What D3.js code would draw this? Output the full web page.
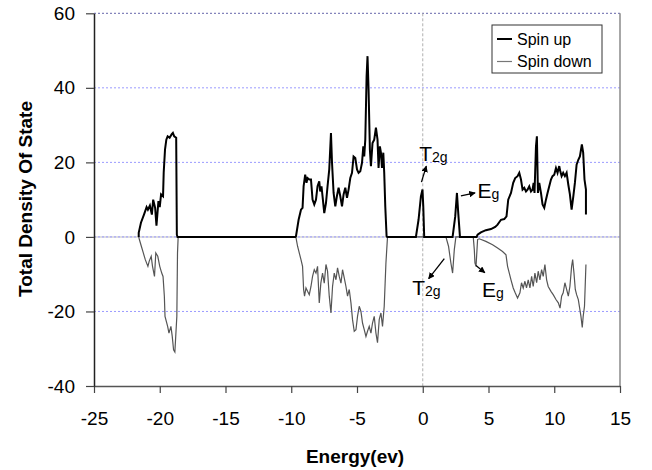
<!DOCTYPE html>
<html>
<head>
<meta charset="utf-8">
<script src="https://cdn.jsdelivr.net/npm/d3@7"></script>
<style>
  body { margin: 0; background: #fff; }
  svg text { font-family: "Liberation Sans", Arial, sans-serif; }
</style>
</head>
<body>
<div id="chart"></div>
<script>
// ---- data: [energy (eV), total DOS] ----
const spinUp = [
  [-21.6, 0], [-21.6, 1.1], [-21.43, 3.8], [-21.2, 6.0], [-21.0, 8.0], [-20.9, 7.3], [-20.75, 8.4],
  [-20.6, 6.0], [-20.5, 10.0], [-20.35, 7.8], [-20.25, 3.0], [-20.1, 9.6], [-20.0, 8.0],
  [-19.9, 11.4], [-19.75, 10.9], [-19.7, 17.2], [-19.6, 23.4], [-19.5, 26.1], [-19.4, 27.0],
  [-19.25, 26.6], [-19.1, 27.5], [-19.0, 27.9], [-18.9, 27.0], [-18.75, 26.6], [-18.7, 0.6],
  [-18.65, 0], [-9.7, 0],
  [-9.64, 0.2], [-9.44, 4.6], [-9.26, 7.3], [-9.14, 7.8], [-9.06, 13.6], [-8.94, 16.7],
  [-8.84, 14.5], [-8.76, 15.8], [-8.63, 15.4], [-8.5, 15.4], [-8.38, 10.0], [-8.25, 8.7],
  [-8.12, 10.0], [-8.0, 13.6], [-7.87, 14.9], [-7.8, 12.2], [-7.7, 13.6], [-7.62, 10.9],
  [-7.49, 6.4], [-7.36, 9.1], [-7.24, 13.6], [-7.11, 18.1], [-6.98, 27.9], [-6.9, 19.9],
  [-6.78, 11.8], [-6.65, 8.2], [-6.53, 10.9], [-6.4, 13.2], [-6.27, 10.9], [-6.14, 8.2],
  [-6.02, 11.4], [-5.89, 13.2], [-5.76, 10.5], [-5.64, 12.7], [-5.51, 15.8], [-5.38, 17.2],
  [-5.26, 21.6], [-5.13, 21.2], [-5.0, 18.1], [-4.88, 17.2], [-4.75, 17.6], [-4.62, 19.9],
  [-4.52, 24.3], [-4.45, 21.6], [-4.37, 26.1], [-4.27, 43.1], [-4.2, 48.5], [-4.12, 39.5],
  [-4.02, 23.4], [-3.94, 19.0], [-3.82, 25.2], [-3.69, 26.1], [-3.56, 29.3], [-3.44, 26.1],
  [-3.36, 18.5], [-3.26, 24.3], [-3.18, 22.6], [-3.1, 18.5], [-3.0, 22.6], [-2.93, 17.2],
  [-2.85, 8.2], [-2.75, 0.2], [-2.7, 0],
  [-0.52, 0], [-0.32, 4.6], [-0.14, 10.9], [-0.02, 12.7], [0.04, 8.2], [0.11, 0],
  [2.27, 0], [2.47, 5.5], [2.6, 11.8], [2.7, 6.4], [2.83, 0],
  [4.1, 0], [4.17, 0.6], [4.42, 1.2], [4.8, 1.8], [5.19, 2.1], [5.51, 2.7], [5.69, 3.3],
  [5.95, 4.6], [6.2, 4.8], [6.37, 5.5], [6.5, 10.0], [6.71, 11.8], [6.88, 14.5], [7.03, 15.8],
  [7.21, 16.3], [7.34, 17.2], [7.47, 15.4], [7.59, 12.7], [7.72, 13.2], [7.85, 12.2],
  [7.97, 12.7], [8.1, 13.6], [8.23, 12.2], [8.35, 12.7], [8.43, 14.5], [8.5, 11.8],
  [8.61, 24.3], [8.68, 27.0], [8.76, 11.8], [8.86, 14.5], [8.99, 11.8], [9.11, 8.7],
  [9.24, 7.8], [9.37, 10.0], [9.49, 11.8], [9.62, 13.6], [9.75, 15.4], [9.87, 16.3],
  [10.0, 16.7], [10.13, 18.5], [10.25, 17.2], [10.38, 19.0], [10.46, 17.6], [10.56, 16.3],
  [10.68, 17.2], [10.81, 16.3], [10.94, 17.2], [11.07, 14.0], [11.19, 11.4], [11.32, 7.3],
  [11.45, 10.9], [11.57, 14.5], [11.7, 19.4], [11.83, 20.7], [11.95, 21.6], [12.1, 24.8],
  [12.2, 22.6], [12.3, 15.4], [12.41, 12.7], [12.41, 6.0]
];

const spinDown = [
  [-21.6, 0], [-21.55, -0.7], [-21.4, -2.5], [-21.25, -4.3], [-21.1, -6.1], [-20.9, -7.9],
  [-20.8, -6.5], [-20.65, -5.2], [-20.55, -7.9], [-20.4, -10.6], [-20.3, -4.3], [-20.15, -5.2],
  [-20.0, -7.9], [-19.85, -9.7], [-19.75, -10.6], [-19.65, -15.9], [-19.6, -21.3], [-19.4, -24.0],
  [-19.3, -25.8], [-19.15, -24.0], [-19.05, -26.7], [-18.95, -30.3], [-18.85, -30.9],
  [-18.7, -21.3], [-18.65, -4.3], [-18.6, 0], [-9.7, 0],
  [-9.64, -0.2], [-9.52, -2.5], [-9.26, -6.1], [-9.14, -7.9], [-9.06, -14.1], [-8.99, -15.9],
  [-8.88, -13.7], [-8.76, -14.6], [-8.63, -15.5], [-8.5, -13.3], [-8.38, -10.6], [-8.25, -8.8],
  [-8.12, -9.7], [-8.0, -7.9], [-7.87, -17.7], [-7.75, -12.4], [-7.62, -9.7], [-7.49, -12.4],
  [-7.36, -7.4], [-7.24, -9.2], [-7.11, -15.9], [-6.98, -20.4], [-6.86, -13.3], [-6.73, -9.7],
  [-6.6, -11.5], [-6.48, -8.3], [-6.35, -10.6], [-6.22, -12.4], [-6.1, -8.8], [-5.97, -11.0],
  [-5.84, -13.3], [-5.72, -15.9], [-5.59, -14.1], [-5.46, -17.7], [-5.34, -22.2], [-5.21, -25.3],
  [-5.08, -24.9], [-4.96, -21.3], [-4.83, -18.6], [-4.7, -20.0], [-4.58, -23.1], [-4.45, -24.9],
  [-4.32, -26.7], [-4.2, -25.3], [-4.07, -24.0], [-3.94, -25.8], [-3.82, -23.1], [-3.69, -21.3],
  [-3.56, -25.8], [-3.44, -28.4], [-3.31, -22.2], [-3.18, -20.4], [-3.06, -24.0], [-2.93, -18.6],
  [-2.8, -7.0], [-2.68, 0],
  [1.76, 0], [1.96, -2.5], [2.14, -7.0], [2.27, -9.7], [2.4, -3.4], [2.52, 0],
  [3.84, 0], [3.92, -3.4], [3.97, -7.0], [4.05, -7.9], [4.17, -0.7], [4.3, -0.5],
  [4.8, -1.2], [5.31, -2.1], [5.69, -3.0], [6.07, -3.9], [6.33, -4.8], [6.45, -7.9],
  [6.58, -9.7], [6.71, -11.5], [6.88, -13.7], [7.03, -15.0], [7.21, -16.4], [7.39, -15.0],
  [7.51, -12.3], [7.64, -13.7], [7.77, -11.9], [7.89, -13.7], [8.02, -11.5], [8.15, -13.7],
  [8.28, -10.6], [8.4, -13.3], [8.53, -9.7], [8.66, -12.3], [8.78, -9.2], [8.91, -11.5],
  [9.04, -8.8], [9.16, -10.6], [9.29, -7.4], [9.42, -11.5], [9.54, -13.3], [9.75, -14.6],
  [9.92, -15.5], [10.13, -16.8], [10.31, -17.7], [10.44, -19.1], [10.56, -15.9], [10.68, -15.0],
  [10.81, -12.3], [10.94, -14.1], [11.07, -15.9], [11.19, -13.3], [11.32, -7.9], [11.4, -6.1],
  [11.5, -9.7], [11.6, -14.1], [11.7, -15.5], [11.83, -16.8], [11.95, -19.5], [12.03, -21.3],
  [12.13, -24.3], [12.2, -21.3], [12.3, -18.6], [12.41, -7.4]
];

const xTicks = [-25, -20, -15, -10, -5, 0, 5, 10, 15];
const yTicks = [-40, -20, 0, 20, 40, 60];
const gridValues = [-20, 20, 40, 60];
const seriesNames = ['Spin up', 'Spin down'];

// annotation labels: [energy, dos] of label, arrow tail, arrow head
const labels = [
  { main: 'T', sub: '2g', at: [-0.27, 20.3], tail: [-0.1, 14.7], head: [0.27, 19.0] },
  { main: 'E', sub: 'g', at: [4.17, 10.5], tail: [2.9, 11.0], head: [3.98, 11.8] },
  { main: 'T', sub: '2g', at: [-0.8, -15.5], tail: [1.64, -5.8], head: [0.45, -11.2] },
  { main: 'E', sub: 'g', at: [4.5, -16.0], tail: [4.05, -7.7], head: [4.72, -9.6] }
];

const outerW = 652, outerH = 470;
const margin = { left: 94, right: 32, top: 13.3, bottom: 84 };
const w = outerW - margin.left - margin.right;
const h = outerH - margin.top - margin.bottom;

const x = d3.scaleLinear().domain([-25, 15]).range([0, w]);
const y = d3.scaleLinear().domain([-40, 60]).range([h, 0]);

const svg = d3.select('#chart').append('svg')
  .attr('width', outerW)
  .attr('height', outerH);

svg.append('defs').append('marker')
  .attr('id', 'arrow')
  .attr('viewBox', '0 0 10 10')
  .attr('refX', 9).attr('refY', 5)
  .attr('markerWidth', 5).attr('markerHeight', 5)
  .attr('orient', 'auto')
  .append('path').attr('d', 'M0,0L10,5L0,10Z').attr('fill', '#000');

const g = svg.append('g')
  .attr('transform', 'translate(' + margin.left + ',' + margin.top + ')');

// grid lines
g.append('line')
  .attr('x1', 0).attr('x2', w).attr('y1', y(0)).attr('y2', y(0))
  .attr('stroke', '#d4d4d4').attr('stroke-width', 1.5);
g.selectAll('.grid')
  .data(gridValues.concat([0]))
  .enter().append('line')
  .attr('class', 'grid')
  .attr('x1', 0).attr('x2', w)
  .attr('y1', d => y(d)).attr('y2', d => y(d))
  .attr('stroke', d => d === 60 ? '#6666aa' : '#9a9aff')
  .attr('stroke-width', 1)
  .attr('stroke-dasharray', '2,2');
g.append('line')
  .attr('x1', x(0)).attr('x2', x(0)).attr('y1', 0).attr('y2', h)
  .attr('stroke', '#b0b0b0').attr('stroke-width', 1)
  .attr('stroke-dasharray', '3,2');

// right border
g.append('line')
  .attr('x1', w).attr('x2', w).attr('y1', 0).attr('y2', h)
  .attr('stroke', '#8a8a8a').attr('stroke-width', 1.5);

// axes
const xAxis = g.append('g')
  .attr('transform', 'translate(0,' + h + ')')
  .call(d3.axisBottom(x)
    .tickValues(xTicks)
    .tickFormat(d => String(d))
    .tickSize(7)
    .tickSizeOuter(0)
    .tickPadding(19));
const yAxis = g.append('g')
  .call(d3.axisLeft(y)
    .tickValues(yTicks)
    .tickFormat(d => String(d))
    .tickSize(8)
    .tickSizeOuter(0)
    .tickPadding(11));

xAxis.select('.domain').attr('stroke', '#555').attr('stroke-width', 1.5);
yAxis.select('.domain').attr('stroke', '#222').attr('stroke-width', 1.5);
[xAxis, yAxis].forEach(a => {
  a.selectAll('.tick line').attr('stroke', '#444').attr('stroke-width', 1.2);
  a.selectAll('text')
    .style('font-family', '"Liberation Sans", Arial, sans-serif')
    .style('font-size', '19px')
    .attr('fill', '#000');
});

// curves
const line = d3.line()
  .x(d => x(d[0]))
  .y(d => y(d[1]));

g.append('path')
  .datum(spinDown)
  .attr('d', line)
  .attr('fill', 'none')
  .attr('stroke', '#555')
  .attr('stroke-width', 1.2);

g.append('path')
  .datum(spinUp)
  .attr('d', line)
  .attr('fill', 'none')
  .attr('stroke', '#000')
  .attr('stroke-width', 2);

// annotations
labels.forEach(l => {
  g.append('line')
    .attr('x1', x(l.tail[0])).attr('y1', y(l.tail[1]))
    .attr('x2', x(l.head[0])).attr('y2', y(l.head[1]))
    .attr('stroke', '#000').attr('stroke-width', 1.3)
    .attr('marker-end', 'url(#arrow)');
  const t = g.append('text')
    .attr('x', x(l.at[0])).attr('y', y(l.at[1]))
    .style('font-size', '21px');
  t.append('tspan').text(l.main);
  t.append('tspan').attr('dy', 1).style('font-size', '14px').text(l.sub);
});

// legend
const legend = svg.append('g').attr('transform', 'translate(492,25)');
legend.append('rect')
  .attr('width', 110).attr('height', 48)
  .attr('fill', '#fff').attr('stroke', '#333').attr('stroke-width', 1);
const items = legend.selectAll('.item')
  .data(seriesNames)
  .enter().append('g')
  .attr('transform', (d, i) => 'translate(0,' + (14 + i * 22.5) + ')');
items.append('line')
  .attr('x1', 5).attr('x2', 20).attr('y1', 0).attr('y2', 0)
  .attr('stroke', (d, i) => i === 0 ? '#000' : '#777')
  .attr('stroke-width', (d, i) => i === 0 ? 2 : 1.2);
items.append('text')
  .attr('x', 25).attr('y', 5.5)
  .style('font-size', '16px')
  .text(d => d);

// axis titles
svg.append('text')
  .attr('x', 355).attr('y', 463)
  .attr('text-anchor', 'middle')
  .style('font-size', '19px').style('font-weight', 'bold')
  .text('Energy(ev)');
svg.append('text')
  .attr('transform', 'translate(32,199) rotate(-90)')
  .attr('text-anchor', 'middle')
  .style('font-size', '19px').style('font-weight', 'bold')
  .text('Total Density Of State');
</script>
</body>
</html>
